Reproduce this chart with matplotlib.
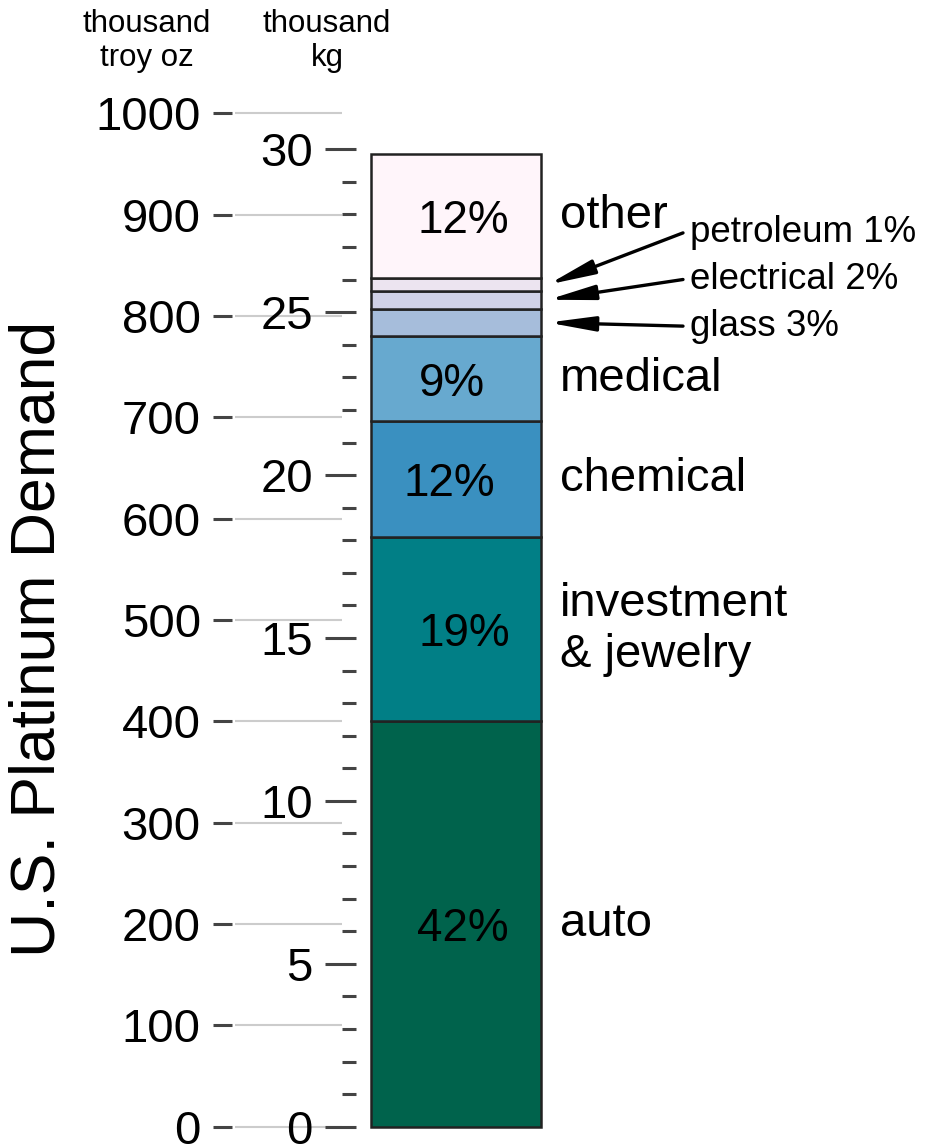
import numpy as np
import matplotlib.pyplot as plt
from matplotlib.ticker import FixedLocator

plt.rcParams['font.family'] = ['Liberation Sans', 'DejaVu Sans']

# US platinum demand by sector, thousand troy oz (bottom to top)
sectors = ['auto', 'investment\n& jewelry', 'chemical', 'medical',
           'glass', 'electrical', 'petroleum', 'other']
demand = [400, 182, 114, 84, 27, 18, 12, 123]
shares = ['42%', '19%', '12%', '9%', '3%', '2%', '1%', '12%']
colors = ['#00634c', '#017f86', '#3a90c0', '#67a9cf',
          '#a6bddb', '#d0d1e6', '#ece4f0', '#fff5fa']

oz_ticks = list(range(0, 1001, 100))
kg_ticks = [0, 5, 10, 15, 20, 25, 30]
kg_minor = [k for k in range(0, 31) if k % 5]

OZ_PER_KG = 32.1507  # troy oz per kg


def oz_to_kg(v):
    return np.asarray(v) / OZ_PER_KG


def kg_to_oz(v):
    return np.asarray(v) * OZ_PER_KG


fig = plt.figure(figsize=(9.27, 11.46), dpi=100)
ax = fig.add_axes([0, 0, 1, 1])
ax.set_xlim(0, 927)
ax.set_ylim(-19.0, 1111.8)
ax.patch.set_visible(False)

for side in ['top', 'right', 'bottom']:
    ax.spines[side].set_visible(False)
ax.spines['left'].set_position(('data', 232))
ax.spines['left'].set_visible(False)
ax.set_xticks([])

# troy oz axis
ax.set_yticks(oz_ticks)
ax.set_yticklabels([str(t) for t in oz_ticks])
ax.tick_params(axis='y', direction='out', length=13.5, width=2.2,
               color='#444444', labelsize=34, pad=9)
ax.hlines(oz_ticks, 235, 342, color='#cccccc', lw=1.5, zorder=0)

# thousand kg axis
sec = ax.secondary_yaxis(356 / 927, functions=(oz_to_kg, kg_to_oz))
sec.spines['left'].set_visible(False)
sec.set_yticks(kg_ticks)
sec.set_yticklabels([str(t) for t in kg_ticks])
sec.yaxis.set_minor_locator(FixedLocator(kg_minor))
sec.tick_params(axis='y', which='major', direction='out', length=22,
                width=2.2, color='#444444', labelsize=34, pad=9)
sec.tick_params(axis='y', which='minor', direction='out', length=10,
                width=2.2, color='#444444')

# stacked bar
bottoms = np.concatenate([[0], np.cumsum(demand)[:-1]])
ax.bar(456, demand, width=170, bottom=bottoms, color=colors,
       edgecolor='#222222', linewidth=1.8, zorder=2)

mids = bottoms + np.array(demand) / 2
pct_dx = [7, 8, -7, -4, 0, 0, 0, 7]
big = [0, 1, 2, 3, 7]
for i in big:
    ax.text(456 + pct_dx[i], mids[i] - 5, shares[i], ha='center', va='center',
            fontsize=33, zorder=3)
    ax.text(560, mids[i], sectors[i], ha='left', va='center', fontsize=34,
            linespacing=1.2)

# small sectors with arrows
text_y = {4: 790, 5: 836, 6: 882}
for i, ty in text_y.items():
    ax.annotate('', xy=(548, mids[i]), xytext=(683, ty),
                arrowprops=dict(arrowstyle='-|>,head_length=1.4,head_width=0.22',
                                lw=2.4, color='black', mutation_scale=20,
                                shrinkA=0, shrinkB=0))
    ax.text(690, ty, f'{sectors[i]} {shares[i]}', ha='left', va='center',
            fontsize=26.5)

# headers and axis title
fig.text(147 / 927, 1 - 41 / 1146, 'thousand\ntroy oz', ha='center',
         va='center', fontsize=22.5, linespacing=1.2)
fig.text(327 / 927, 1 - 41 / 1146, 'thousand\nkg', ha='center',
         va='center', fontsize=22.5, linespacing=1.2)
fig.text(38 / 927, 1 - 639 / 1146, 'U.S. Platinum Demand', rotation=90,
         ha='center', va='center', fontsize=45)

fig.savefig('out.png', dpi=100)
